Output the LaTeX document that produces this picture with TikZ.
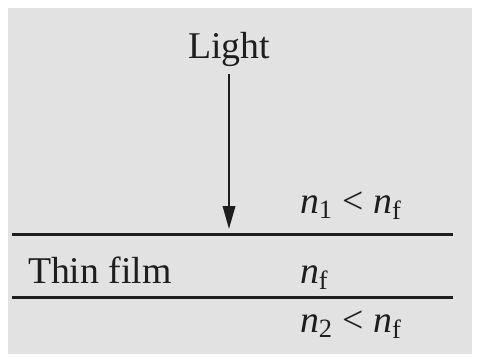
\documentclass[tikz,border=0pt]{standalone}
\usepackage{fontspec}
\setmainfont{Liberation Serif}
\usepackage{xcolor}
\definecolor{scanGray}{HTML}{E2E2E2}
\definecolor{inkDark}{HTML}{1E1E1E}
\usepackage{tikz}
\usetikzlibrary{arrows.meta, positioning}

\newcommand{\idx}[1]{\textit{n}\textsubscript{#1}}

\begin{document}
\begin{tikzpicture}[
    x=0.02cm, y=-0.02cm,
    every node/.style={outer sep=0pt, inner sep=0pt},
    lbl/.style={font=\fontsize{21.5}{26}\selectfont, text=inkDark},
    idxLbl/.style={lbl, anchor=base west},
    beam/.style={draw=inkDark, line width=1.1pt, -{Triangle[length=0.46cm, width=0.25cm]}},
    boundary/.style={draw=inkDark, line width=1.7pt}
]
    % Page and scanned background
    \fill[white] (0,0) rectangle (479,360);
    \fill[scanGray] (8,8) rectangle (472,354);

    % Film boundaries
    \coordinate (topL) at (12,234);
    \coordinate (topR) at (453,234);
    \coordinate (botL) at (12,297);
    \coordinate (botR) at (453,297);
    \draw [boundary] (topL) -- (topR);
    \draw [boundary] (botL) -- (botR);

    % Incoming light
    \node (light) [lbl, anchor=base] at (229,58) {Light};
    \coordinate (hit) at (229,229);
    \draw [beam] ([yshift=-0.16cm]light.south) -- (hit);

    % Labels
    \node (film) [lbl, anchor=base west] at (28,283) {Thin film};
    \node (n1) [idxLbl] at (300,213) {\idx{1} < \idx{f}};
    \node (nf) [idxLbl] at (300,283) {\idx{f}};
    \node (n2) [idxLbl] at (300,332) {\idx{2} < \idx{f}};
\end{tikzpicture}
\end{document}
